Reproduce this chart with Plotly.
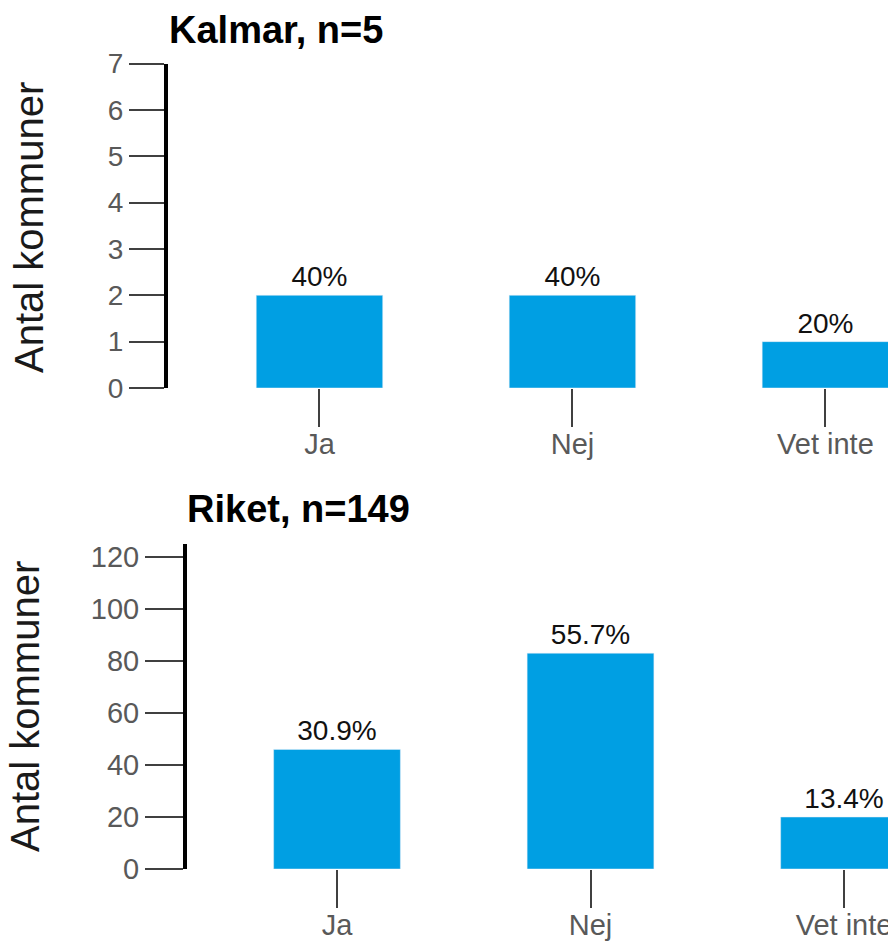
import plotly.graph_objects as go

categories = ["Ja", "Nej", "Vet inte"]
kalmar_counts = [2, 2, 1]
kalmar_labels = ["40%", "40%", "20%"]
riket_counts = [46, 83, 20]
riket_labels = ["30.9%", "55.7%", "13.4%"]
kalmar_title = "Kalmar, n=5"
riket_title = "Riket, n=149"
y_title = "Antal kommuner"

W, H = 896, 944
OFF = 8  # page body margin offset
BLUE = "#009FE3"
FONT = "Liberation Sans, Arial, sans-serif"
TICKLAB = "#595959"
TICKCOL = "#404040"


def fx(px):
    return (px - OFF) / W


def fy(py):
    return 1 - (py - OFF) / H


fig = go.Figure()
fig.add_trace(go.Bar(x=categories, y=kalmar_counts, text=kalmar_labels,
                     textposition="outside", marker_color=BLUE, width=0.5,
                     textfont=dict(size=28, color="#111", family=FONT),
                     xaxis="x", yaxis="y", cliponaxis=False, showlegend=False))
fig.add_trace(go.Bar(x=categories, y=riket_counts, text=riket_labels,
                     textposition="outside", marker_color=BLUE, width=0.5,
                     textfont=dict(size=28, color="#111", family=FONT),
                     xaxis="x2", yaxis="y2", cliponaxis=False, showlegend=False))

xcommon = dict(showline=False, showgrid=False, zeroline=False, ticks="outside",
               ticklen=38, tickwidth=2, tickcolor=TICKCOL,
               tickfont=dict(size=29, color=TICKLAB, family=FONT),
               ticklabelstandoff=-8,
               automargin=False, fixedrange=True)
ycommon = dict(showline=True, linewidth=4, linecolor="black", showgrid=False,
               zeroline=False, ticks="outside", tickwidth=2, tickcolor=TICKCOL,
               automargin=False)

fig.update_layout(
    width=W, height=H,
    margin=dict(l=0, r=0, t=0, b=0),
    plot_bgcolor="white", paper_bgcolor="white",
    font=dict(family=FONT),
    xaxis=dict(domain=[fx(168), 1], range=[-0.5988, 2.279 + OFF / 253], anchor="y", **xcommon),
    yaxis=dict(domain=[fy(388), fy(63.5)], range=[0, 7], dtick=1, anchor="x",
               ticklen=35, tickfont=dict(size=28, color=TICKLAB, family=FONT),
               **ycommon),
    xaxis2=dict(domain=[fx(187), 1], range=[-0.5917, 2.205 + OFF / 253.5], anchor="y2", **xcommon),
    yaxis2=dict(domain=[fy(869), fy(544)], range=[0, 125], dtick=20, anchor="x2",
                ticklen=38, tickfont=dict(size=29, color=TICKLAB, family=FONT),
                **ycommon),
    annotations=[
        dict(text="<b>" + kalmar_title + "</b>", x=fx(167), y=fy(30), xref="paper",
             yref="paper", xanchor="left", yanchor="middle", showarrow=False,
             font=dict(size=38, color="black", family=FONT)),
        dict(text="<b>" + riket_title + "</b>", x=fx(185), y=fy(509), xref="paper",
             yref="paper", xanchor="left", yanchor="middle", showarrow=False,
             font=dict(size=38, color="black", family=FONT)),
        dict(text=y_title, textangle=-90, x=fx(29), y=fy(228), xref="paper",
             yref="paper", xanchor="center", yanchor="middle", showarrow=False,
             font=dict(size=40, color="#1a1a1a", family=FONT)),
        dict(text=y_title, textangle=-90, x=fx(25), y=fy(707), xref="paper",
             yref="paper", xanchor="center", yanchor="middle", showarrow=False,
             font=dict(size=40, color="#1a1a1a", family=FONT)),
    ],
)

fig.write_html("out.html")
